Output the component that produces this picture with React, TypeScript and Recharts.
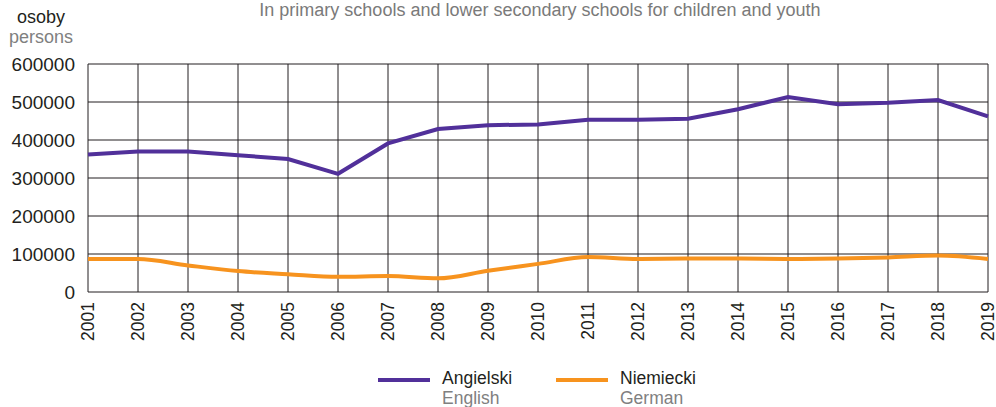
import { LineChart, Line, XAxis, YAxis, CartesianGrid } from "recharts";

const YEARS = [
  "2001", "2002", "2003", "2004", "2005", "2006", "2007", "2008", "2009", "2010",
  "2011", "2012", "2013", "2014", "2015", "2016", "2017", "2018", "2019",
];
const ENGLISH = [
  362000, 370000, 370000, 360000, 350000, 311000, 391000, 429000, 439000, 441000,
  453000, 453000, 456000, 481000, 513000, 494000, 498000, 505000, 462000,
];
const GERMAN = [
  87000, 87000, 70000, 55000, 47000, 40000, 42000, 36000, 56000, 74000,
  92000, 87000, 88000, 88000, 87000, 88000, 91000, 96000, 87000,
];
const Y_TICKS = [0, 100000, 200000, 300000, 400000, 500000, 600000];

const PURPLE = "#51309a";
const ORANGE = "#f7931e";
const GRID = "#231f20";
const FONT = "'Liberation Sans', Arial, sans-serif";

const data = YEARS.map((year, i) => ({ year, en: ENGLISH[i], de: GERMAN[i] }));

const YearTick = ({ x, y, payload }: any) => (
  <text
    x={x}
    y={y}
    transform={`rotate(-90 ${x} ${y})`}
    textAnchor="end"
    dy="0.36em"
    fontSize={17.5}
    fontFamily={FONT}
    fill="#231f20"
  >
    {payload.value}
  </text>
);

const LegendBox = () => (
  <div style={{ display: "flex", fontFamily: FONT, fontSize: 17.5, lineHeight: "20px" }}>
    {[
      { color: PURPLE, pl: "Angielski", en: "English", w: 178 },
      { color: ORANGE, pl: "Niemiecki", en: "German", w: 150 },
    ].map((it) => (
      <div key={it.pl} style={{ display: "flex", alignItems: "flex-start", width: it.w }}>
        <div style={{ width: 52, height: 4, background: it.color, marginTop: 10, marginRight: 12 }} />
        <div>
          <div style={{ color: "#231f20" }}>{it.pl}</div>
          <div style={{ color: "#808080" }}>{it.en}</div>
        </div>
      </div>
    ))}
  </div>
);

export default function App() {
  return (
    <div style={{ position: "absolute", left: 0, top: 0, width: 996, height: 407, background: "#fff" }}>
      <LineChart
        width={996}
        height={407}
        data={data}
        margin={{ top: 64, right: 8, bottom: 0, left: 8 }}
      >
        <CartesianGrid stroke={GRID} strokeWidth={1} />
        <XAxis
          dataKey="year"
          axisLine={false}
          tickLine={false}
          tickSize={0}
          tickMargin={10}
          interval={0}
          height={115}
          tick={<YearTick />}
        />
        <YAxis
          domain={[0, 600000]}
          ticks={Y_TICKS}
          width={80}
          axisLine={false}
          tickLine={false}
          tickSize={0}
          tickMargin={13}
          interval={0}
          tick={{ fontSize: 19, fontFamily: FONT, fill: "#231f20" }}
        />
        <Line
          dataKey="en"
          type="linear"
          stroke={PURPLE}
          strokeWidth={4}
          dot={false}
          isAnimationActive={false}
        />
        <Line
          dataKey="de"
          type="monotone"
          stroke={ORANGE}
          strokeWidth={4}
          dot={false}
          isAnimationActive={false}
        />
      </LineChart>
      <div
        style={{
          position: "absolute",
          left: 0,
          width: 1080,
          top: 0,
          textAlign: "center",
          fontFamily: FONT,
          fontSize: 18,
          lineHeight: "20px",
          color: "#7a7a7a",
        }}
      >
        In primary schools and lower secondary schools for children and youth
      </div>
      <div style={{ position: "absolute", left: 17, top: 7, fontFamily: FONT, fontSize: 18, lineHeight: "20px", color: "#231f20" }}>
        osoby
      </div>
      <div style={{ position: "absolute", left: 9, top: 27, fontFamily: FONT, fontSize: 18, lineHeight: "20px", color: "#808080" }}>
        persons
      </div>
      <div style={{ position: "absolute", left: 378, top: 368 }}>
        <LegendBox />
      </div>
    </div>
  );
}
